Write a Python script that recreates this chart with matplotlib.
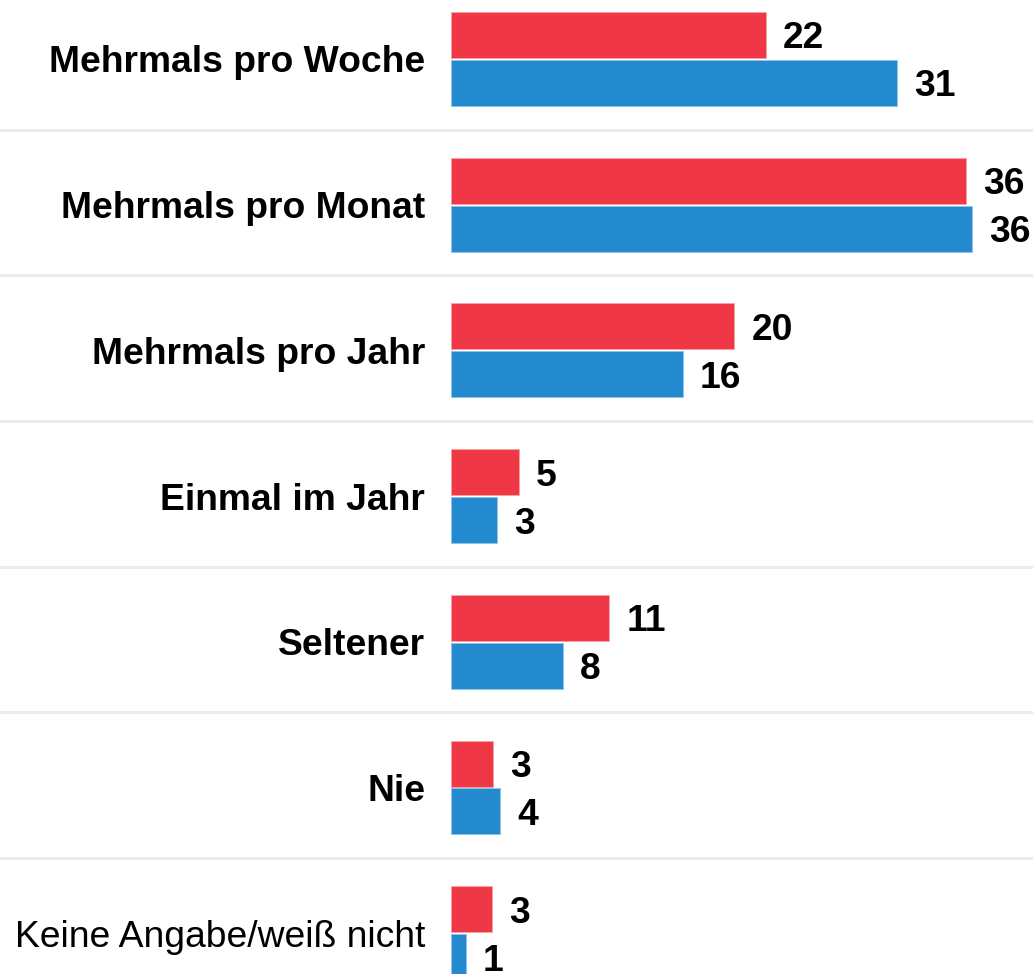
import matplotlib
matplotlib.use("Agg")
import matplotlib.pyplot as plt
import numpy as np

plt.rcParams['font.family'] = ['Liberation Sans', 'DejaVu Sans']

categories = ["Mehrmals pro Woche", "Mehrmals pro Monat", "Mehrmals pro Jahr",
              "Einmal im Jahr", "Seltener", "Nie", "Keine Angabe/weiß nicht"]
bold_label = [True, True, True, True, True, True, False]
red_vals = [21.9, 35.8, 19.7, 4.7, 11.0, 2.9, 2.85]
blue_vals = [31.0, 36.2, 16.1, 3.2, 7.8, 3.4, 1.05]
red_labels = ["22", "36", "20", "5", "11", "3", "3"]
blue_labels = ["31", "36", "16", "3", "8", "4", "1"]

RED = "#EF3746"
BLUE = "#238ACF"
SEP = "#EBEBEB"

W, H = 1033, 974
px_per_unit = 14.39
zero_px = 451
pitch = 145.7
first_center = 59

fig = plt.figure(figsize=(W / 100, H / 100), dpi=100)
ax = fig.add_axes([0, 0, 1, 1])
ax.set_xlim(-zero_px / px_per_unit, (W - zero_px) / px_per_unit)
ax.set_ylim((H - first_center) / pitch, -first_center / pitch)
ax.axis("off")

y = np.arange(len(categories))
bh = 46 / pitch
off = 24 / pitch
ax.barh(y - off, red_vals, height=bh, color=RED, edgecolor="#F6A0A6", linewidth=0.6)
ax.barh(y + off, blue_vals, height=bh, color=BLUE, edgecolor="#8EC2E8", linewidth=0.6)

fs = 26.8
for i, cat in enumerate(categories):
    ax.text(-26 / px_per_unit, y[i], cat, ha="right", va="center_baseline", fontsize=fs,
            fontweight="bold" if bold_label[i] else "normal", color="black")
    ax.text(red_vals[i] + 17 / px_per_unit, y[i] - off, red_labels[i], ha="left",
            va="center_baseline", fontsize=fs, fontweight="bold", color="black")
    ax.text(blue_vals[i] + 17 / px_per_unit, y[i] + off, blue_labels[i], ha="left",
            va="center_baseline", fontsize=fs, fontweight="bold", color="black")

for i in range(len(categories) - 1):
    ax.axhline(y[i] + 0.485, color=SEP, linewidth=2.2, zorder=0)

fig.savefig("out.png", dpi=100, facecolor="white")
